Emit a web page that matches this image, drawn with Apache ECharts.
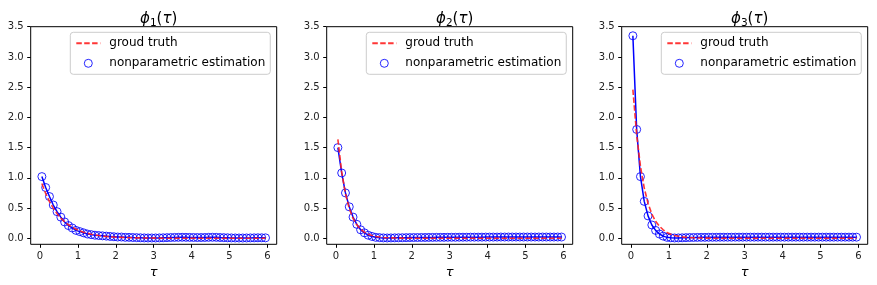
<!DOCTYPE html>
<html>
<head>
<meta charset="utf-8">
<script src="https://cdn.jsdelivr.net/npm/echarts@6/dist/echarts.min.js"></script>
<style>html,body{margin:0;padding:0;background:#fff}#c{width:877px;height:285px}</style>
</head>
<body>
<div id="c"></div>
<script>
const tau = [0.05,0.15,0.25,0.35,0.45,0.55,0.65,0.75,0.85,0.95,
1.05,1.15,1.25,1.35,1.45,1.55,1.65,1.75,1.85,1.95,
2.05,2.15,2.25,2.35,2.45,2.55,2.65,2.75,2.85,2.95,
3.05,3.15,3.25,3.35,3.45,3.55,3.65,3.75,3.85,3.95,
4.05,4.15,4.25,4.35,4.45,4.55,4.65,4.75,4.85,4.95,
5.05,5.15,5.25,5.35,5.45,5.55,5.65,5.75,5.85,5.95];

const est1 = [1.02,0.84,0.69,0.55,0.44,0.35,0.27,0.21,0.17,0.13,
0.11,0.09,0.07,0.06,0.05,0.045,0.04,0.035,0.03,0.025,
0.02,0.02,0.015,0.015,0.012,0.01,0.008,0.006,0.005,0.005,
0.005,0.006,0.008,0.01,0.012,0.014,0.015,0.016,0.015,0.014,
0.013,0.012,0.012,0.013,0.015,0.016,0.015,0.012,0.01,0.008,
0.006,0.005,0.004,0.004,0.005,0.006,0.007,0.008,0.008,0.007];
const truth1 = [0.905,0.741,0.607,0.497,0.407,0.333,0.273,0.223,0.183,0.150,
0.122,0.100,0.082,0.067,0.055,0.045,0.037,0.030,0.025,0.020,
0.017,0.014,0.011,0.009,0.007,0.006,0.005,0.004,0.003,0.003,
0.002,0.002,0.001,0.001,0.001,0.001,0.001,0,0,0,
0,0,0,0,0,0,0,0,0,0,
0,0,0,0,0,0,0,0,0,0];

const est2 = [1.50,1.08,0.75,0.52,0.35,0.23,0.14,0.09,0.05,0.03,
0.015,0.01,0.006,0.005,0.006,0.007,0.008,0.009,0.01,0.011,
0.012,0.012,0.013,0.013,0.014,0.014,0.015,0.015,0.015,0.016,
0.016,0.016,0.017,0.017,0.017,0.018,0.018,0.018,0.018,0.019,
0.019,0.019,0.019,0.02,0.02,0.02,0.02,0.02,0.02,0.02,
0.02,0.02,0.02,0.02,0.02,0.02,0.02,0.02,0.02,0.02];
const truth2 = [1.637,1.098,0.736,0.493,0.331,0.222,0.149,0.100,0.067,0.045,
0.030,0.020,0.013,0.009,0.006,0.004,0.003,0.002,0.001,0.001,
0,0,0,0,0,0,0,0,0,0,
0,0,0,0,0,0,0,0,0,0,
0,0,0,0,0,0,0,0,0,0,
0,0,0,0,0,0,0,0,0,0];

const est3 = [3.35,1.80,1.02,0.61,0.37,0.22,0.13,0.07,0.035,0.015,
0.008,0.005,0.006,0.008,0.01,0.012,0.013,0.014,0.015,0.015,
0.016,0.016,0.016,0.017,0.017,0.017,0.017,0.018,0.018,0.018,
0.018,0.018,0.018,0.018,0.018,0.018,0.018,0.018,0.018,0.018,
0.018,0.018,0.018,0.018,0.018,0.018,0.018,0.018,0.018,0.018,
0.018,0.018,0.018,0.018,0.018,0.018,0.018,0.018,0.018,0.018];
const truth3 = [2.46,1.71,1.19,0.83,0.58,0.40,0.28,0.20,0.14,0.096,
0.067,0.047,0.033,0.023,0.016,0.011,0.008,0.005,0.004,0.003,
0.002,0.001,0.001,0.001,0,0,0,0,0,0,
0,0,0,0,0,0,0,0,0,0,
0,0,0,0,0,0,0,0,0,0,
0,0,0,0,0,0,0,0,0,0];

const xTicks = [0,1,2,3,4,5,6];
const yTicks = [0,0.5,1,1.5,2,2.5,3,3.5];
const subs = ['1','2','3'];
const truthName = 'groud truth';
const estName = 'nonparametric estimation';

const ests = [est1, est2, est3];
const truths = [truth1, truth2, truth3];

const FONT = 'DejaVu Sans';
const lefts = [30.7, 326.7, 621.7];
const W = 246, TOP = 26.7, H = 217.6;

const grids = [], xAxes = [], yAxes = [], series = [], titles = [], legends = [];
for (let i = 0; i < 3; i++) {
  grids.push({left: lefts[i], top: TOP, width: W, height: H, show: true,
    borderColor: '#000', borderWidth: 1, backgroundColor: 'transparent'});
  xAxes.push({type: 'value', gridIndex: i, min: -0.245, max: 6.245,
    name: 'τ', nameLocation: 'middle', nameGap: 21,
    nameTextStyle: {fontFamily: FONT, fontSize: 13, fontStyle: 'italic', color: '#000'},
    axisLine: {show: false, onZero: false},
    splitLine: {show: false},
    axisTick: {show: true, inside: false, length: 3.5, lineStyle: {color: '#000', width: 1}, customValues: xTicks},
    axisLabel: {show: true, margin: 7, fontFamily: FONT, fontSize: 10, color: '#222', customValues: xTicks,
      formatter: v => String(Math.round(v))}});
  yAxes.push({type: 'value', gridIndex: i, min: -0.1, max: 3.5,
    axisLine: {show: false, onZero: false},
    splitLine: {show: false},
    axisTick: {show: true, inside: false, length: 3.5, lineStyle: {color: '#000', width: 1}, customValues: yTicks},
    axisLabel: {show: true, margin: 7, fontFamily: FONT, fontSize: 10, color: '#222', customValues: yTicks,
      formatter: v => v.toFixed(1)}});
  const estPts = tau.map((t, k) => [t, ests[i][k]]);
  const truthPts = tau.map((t, k) => [t, truths[i][k]]);
  series.push({type: 'line', name: 'estimation line', xAxisIndex: i, yAxisIndex: i, data: estPts,
    symbol: 'none', silent: true, animation: false, z: 2,
    lineStyle: {color: '#0000ff', width: 1.5}});
  series.push({type: 'scatter', name: estName, xAxisIndex: i, yAxisIndex: i, data: estPts,
    symbol: 'circle', symbolSize: 8, animation: false, z: 3,
    itemStyle: {color: 'rgba(0,0,0,0)', borderColor: '#0000ff', borderWidth: 1, opacity: 0.85}});
  series.push({type: 'line', name: truthName, xAxisIndex: i, yAxisIndex: i, data: truthPts,
    symbol: 'none', animation: false, z: 4,
    itemStyle: {color: '#ff2020'},
    lineStyle: {color: '#ff2020', width: 1.6, type: [5.5, 2.4], opacity: 0.9}});
  titles.push({text: '{i|ϕ}{s|' + subs[i] + '}{n|(}{i|τ}{n|)}',
    left: lefts[i] + W / 2, top: 4, textAlign: 'center',
    textStyle: {fontWeight: 'normal', rich: {
      i: {fontFamily: FONT, fontSize: 15, fontStyle: 'italic', fontWeight: 'normal', color: '#000', lineHeight: 20, verticalAlign: 'middle'},
      n: {fontFamily: FONT, fontSize: 15, fontWeight: 'normal', color: '#000', lineHeight: 20, verticalAlign: 'middle'},
      s: {fontFamily: FONT, fontSize: 10.5, fontWeight: 'normal', color: '#000', lineHeight: 11, verticalAlign: 'bottom'}
    }}});
  legends.push({show: true, orient: 'vertical', left: lefts[i] + 39.6, top: 32.3,
    data: [{name: truthName, itemStyle: {opacity: 0, borderWidth: 0}}, {name: estName, itemStyle: {borderWidth: 1}}],
    selectedMode: false,
    padding: [5, 5, 5, 5], itemGap: 8, itemWidth: 24, itemHeight: 8,
    borderColor: '#cccccc', borderWidth: 1, borderRadius: 3,
    backgroundColor: 'rgba(255,255,255,0.8)',
    textStyle: {fontFamily: FONT, fontSize: 12, color: '#000', padding: [0, 0, 0, 4]}});
}

const chart = echarts.init(document.getElementById('c'), null, {renderer: 'canvas'});
chart.setOption({
  animation: false,
  backgroundColor: '#fff',
  title: titles,
  legend: legends,
  grid: grids,
  xAxis: xAxes,
  yAxis: yAxes,
  series: series
});
</script>
</body>
</html>
